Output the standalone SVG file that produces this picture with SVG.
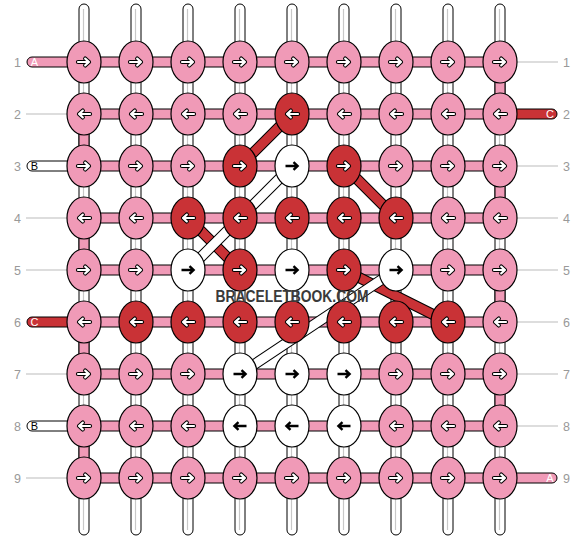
<svg xmlns="http://www.w3.org/2000/svg" xmlns:xlink="http://www.w3.org/1999/xlink" width="584" height="540" viewBox="0 0 584 540">
<style>
.vs{fill:#fff;stroke:#000;stroke-width:1}
.vc{stroke:#c8c8c8;stroke-width:1.2}
.hp{fill:#f09ab7;stroke:#000;stroke-width:1}
.hr{fill:#c93236;stroke:#000;stroke-width:1}
.hw{fill:#fff;stroke:#000;stroke-width:1}
.p{fill:#f09ab7;stroke:#000;stroke-width:1.2}
.r{fill:#c93236;stroke:#000;stroke-width:1.2}
.w{fill:#fff;stroke:#000;stroke-width:1.2}
.bo{fill:none;stroke:#000;stroke-width:11}
.bR{fill:none;stroke:#c93236;stroke-width:9}
.bW{fill:none;stroke:#fff;stroke-width:9}
.gl{stroke:#bbb;stroke-width:1}
.num{font-family:"Liberation Sans",Arial,sans-serif;font-size:12.5px;fill:#999;text-anchor:middle}
.pl{font-family:"Liberation Sans",Arial,sans-serif;font-size:11px;text-anchor:middle}
.ao{fill:none;stroke:#000;stroke-width:4.2;stroke-linecap:round;stroke-linejoin:round}
.ai{fill:none;stroke:#fff;stroke-width:2.2;stroke-linecap:round;stroke-linejoin:round}
.ab{fill:none;stroke:#000;stroke-width:2.4}
</style>
<defs>
<g id="wr"><path class="ao" d="M-6 0H5M1.2-3.4L5 0L1.2 3.4"/><path class="ai" d="M-6 0H5M1.2-3.4L5 0L1.2 3.4"/></g>
<g id="wl"><use href="#wr" transform="scale(-1,1)"/></g>
<path id="br" class="ab" d="M-6.5 0H5.5M1.5-3.9L5.6 0L1.5 3.9"/>
<g id="bl"><use href="#br" transform="scale(-1,1)"/></g>
</defs>
<rect width="584" height="540" fill="#fff"/>
<g id="labels">
<text class="num" x="17.5" y="66.5">1</text><text class="num" x="17.5" y="118.5">2</text><text class="num" x="17.5" y="170.5">3</text><text class="num" x="17.5" y="222.5">4</text><text class="num" x="17.5" y="274.5">5</text><text class="num" x="17.5" y="326.5">6</text><text class="num" x="17.5" y="378.5">7</text><text class="num" x="17.5" y="430.5">8</text><text class="num" x="17.5" y="482.5">9</text>
<text class="num" x="566.5" y="66.5">1</text><text class="num" x="566.5" y="118.5">2</text><text class="num" x="566.5" y="170.5">3</text><text class="num" x="566.5" y="222.5">4</text><text class="num" x="566.5" y="274.5">5</text><text class="num" x="566.5" y="326.5">6</text><text class="num" x="566.5" y="378.5">7</text><text class="num" x="566.5" y="430.5">8</text><text class="num" x="566.5" y="482.5">9</text>
<path class="gl" d="M26 114H70M26 218H70M26 270H70M26 374H70M26 478H70"/>
<path class="gl" d="M514 62H558M514 166H558M514 218H558M514 270H558M514 322H558M514 374H558M514 426H558"/>
</g>
<g id="connectors">
<g id="warp">
<rect class="vs" x="79" y="4" width="10" height="531" rx="5"/><rect class="vs" x="131" y="4" width="10" height="531" rx="5"/><rect class="vs" x="183" y="4" width="10" height="531" rx="5"/><rect class="vs" x="235" y="4" width="10" height="531" rx="5"/><rect class="vs" x="287" y="4" width="10" height="531" rx="5"/><rect class="vs" x="339" y="4" width="10" height="531" rx="5"/><rect class="vs" x="391" y="4" width="10" height="531" rx="5"/><rect class="vs" x="443" y="4" width="10" height="531" rx="5"/><rect class="vs" x="495" y="4" width="10" height="531" rx="5"/>
<path class="vc" d="M83.5 9V530M135.5 9V530M187.5 9V530M239.5 9V530M291.5 9V530M343.5 9V530M395.5 9V530M447.5 9V530M499.5 9V530"/>
<rect class="hp" x="79" y="128" width="10" height="24"/><rect class="hp" x="79" y="232" width="10" height="24"/><rect class="hp" x="79" y="336" width="10" height="24"/><rect class="hp" x="79" y="440" width="10" height="24"/>
<rect class="hp" x="495" y="76" width="10" height="24"/><rect class="hp" x="495" y="180" width="10" height="24"/><rect class="hp" x="495" y="284" width="10" height="24"/><rect class="hp" x="495" y="388" width="10" height="24"/>
</g>
<g id="weft">
<rect class="hp" x="84" y="57" width="416" height="10"/><rect class="hp" x="84" y="109" width="416" height="10"/><rect class="hp" x="84" y="161" width="416" height="10"/><rect class="hp" x="84" y="213" width="416" height="10"/><rect class="hp" x="84" y="265" width="416" height="10"/><rect class="hp" x="84" y="317" width="416" height="10"/><rect class="hp" x="84" y="369" width="416" height="10"/><rect class="hp" x="84" y="421" width="416" height="10"/><rect class="hp" x="84" y="473" width="416" height="10"/>
<path class="hp" d="M72 57H32A5 5 0 0 0 32 67H72Z"/>
<path class="hw" d="M72 161H32A5 5 0 0 0 32 171H72Z"/>
<path class="hr" d="M72 317H32A5 5 0 0 0 32 327H72Z"/>
<path class="hw" d="M72 421H32A5 5 0 0 0 32 431H72Z"/>
<path class="hr" d="M512 109H552A5 5 0 0 1 552 119H512Z"/>
<path class="hp" d="M512 473H552A5 5 0 0 1 552 483H512Z"/>
<text class="pl" x="34.5" y="66" fill="#fff">A</text>
<text class="pl" x="34.5" y="170" fill="#000">B</text>
<text class="pl" x="34.5" y="326" fill="#fff">C</text>
<text class="pl" x="34.5" y="430" fill="#000">B</text>
<text class="pl" x="550" y="118" fill="#fff">C</text>
<text class="pl" x="550" y="482" fill="#fff">A</text>
</g>
<g id="diagonals">
<path class="bo" d="M292 114L240 166M344 166L396 218M188 218L240 270M344 270L448 322"/>
<path class="bR" d="M292 114L240 166M344 166L396 218M188 218L240 270M344 270L448 322"/>
<path class="bo" d="M292 166L188 270M396 270L240 374"/>
<path class="bW" d="M292 166L188 270M396 270L240 374"/>
</g>
</g>
<g id="knots">
<g id="k1-1"><ellipse class="p" cx="84" cy="62" rx="17" ry="21"/><use href="#wr" x="84" y="62"/></g>
<g id="k1-2"><ellipse class="p" cx="136" cy="62" rx="17" ry="21"/><use href="#wr" x="136" y="62"/></g>
<g id="k1-3"><ellipse class="p" cx="188" cy="62" rx="17" ry="21"/><use href="#wr" x="188" y="62"/></g>
<g id="k1-4"><ellipse class="p" cx="240" cy="62" rx="17" ry="21"/><use href="#wr" x="240" y="62"/></g>
<g id="k1-5"><ellipse class="p" cx="292" cy="62" rx="17" ry="21"/><use href="#wr" x="292" y="62"/></g>
<g id="k1-6"><ellipse class="p" cx="344" cy="62" rx="17" ry="21"/><use href="#wr" x="344" y="62"/></g>
<g id="k1-7"><ellipse class="p" cx="396" cy="62" rx="17" ry="21"/><use href="#wr" x="396" y="62"/></g>
<g id="k1-8"><ellipse class="p" cx="448" cy="62" rx="17" ry="21"/><use href="#wr" x="448" y="62"/></g>
<g id="k1-9"><ellipse class="p" cx="500" cy="62" rx="17" ry="21"/><use href="#wr" x="500" y="62"/></g>
<g id="k2-1"><ellipse class="p" cx="84" cy="114" rx="17" ry="21"/><use href="#wl" x="84" y="114"/></g>
<g id="k2-2"><ellipse class="p" cx="136" cy="114" rx="17" ry="21"/><use href="#wl" x="136" y="114"/></g>
<g id="k2-3"><ellipse class="p" cx="188" cy="114" rx="17" ry="21"/><use href="#wl" x="188" y="114"/></g>
<g id="k2-4"><ellipse class="p" cx="240" cy="114" rx="17" ry="21"/><use href="#wl" x="240" y="114"/></g>
<g id="k2-5"><ellipse class="r" cx="292" cy="114" rx="17" ry="21"/><use href="#wl" x="292" y="114"/></g>
<g id="k2-6"><ellipse class="p" cx="344" cy="114" rx="17" ry="21"/><use href="#wl" x="344" y="114"/></g>
<g id="k2-7"><ellipse class="p" cx="396" cy="114" rx="17" ry="21"/><use href="#wl" x="396" y="114"/></g>
<g id="k2-8"><ellipse class="p" cx="448" cy="114" rx="17" ry="21"/><use href="#wl" x="448" y="114"/></g>
<g id="k2-9"><ellipse class="p" cx="500" cy="114" rx="17" ry="21"/><use href="#wl" x="500" y="114"/></g>
<g id="k3-1"><ellipse class="p" cx="84" cy="166" rx="17" ry="21"/><use href="#wr" x="84" y="166"/></g>
<g id="k3-2"><ellipse class="p" cx="136" cy="166" rx="17" ry="21"/><use href="#wr" x="136" y="166"/></g>
<g id="k3-3"><ellipse class="p" cx="188" cy="166" rx="17" ry="21"/><use href="#wr" x="188" y="166"/></g>
<g id="k3-4"><ellipse class="r" cx="240" cy="166" rx="17" ry="21"/><use href="#wr" x="240" y="166"/></g>
<g id="k3-5"><ellipse class="w" cx="292" cy="166" rx="17" ry="21"/><use href="#br" x="292" y="166"/></g>
<g id="k3-6"><ellipse class="r" cx="344" cy="166" rx="17" ry="21"/><use href="#wr" x="344" y="166"/></g>
<g id="k3-7"><ellipse class="p" cx="396" cy="166" rx="17" ry="21"/><use href="#wr" x="396" y="166"/></g>
<g id="k3-8"><ellipse class="p" cx="448" cy="166" rx="17" ry="21"/><use href="#wr" x="448" y="166"/></g>
<g id="k3-9"><ellipse class="p" cx="500" cy="166" rx="17" ry="21"/><use href="#wr" x="500" y="166"/></g>
<g id="k4-1"><ellipse class="p" cx="84" cy="218" rx="17" ry="21"/><use href="#wl" x="84" y="218"/></g>
<g id="k4-2"><ellipse class="p" cx="136" cy="218" rx="17" ry="21"/><use href="#wl" x="136" y="218"/></g>
<g id="k4-3"><ellipse class="r" cx="188" cy="218" rx="17" ry="21"/><use href="#wl" x="188" y="218"/></g>
<g id="k4-4"><ellipse class="r" cx="240" cy="218" rx="17" ry="21"/><use href="#wl" x="240" y="218"/></g>
<g id="k4-5"><ellipse class="r" cx="292" cy="218" rx="17" ry="21"/><use href="#wl" x="292" y="218"/></g>
<g id="k4-6"><ellipse class="r" cx="344" cy="218" rx="17" ry="21"/><use href="#wl" x="344" y="218"/></g>
<g id="k4-7"><ellipse class="r" cx="396" cy="218" rx="17" ry="21"/><use href="#wl" x="396" y="218"/></g>
<g id="k4-8"><ellipse class="p" cx="448" cy="218" rx="17" ry="21"/><use href="#wl" x="448" y="218"/></g>
<g id="k4-9"><ellipse class="p" cx="500" cy="218" rx="17" ry="21"/><use href="#wl" x="500" y="218"/></g>
<g id="k5-1"><ellipse class="p" cx="84" cy="270" rx="17" ry="21"/><use href="#wr" x="84" y="270"/></g>
<g id="k5-2"><ellipse class="p" cx="136" cy="270" rx="17" ry="21"/><use href="#wr" x="136" y="270"/></g>
<g id="k5-3"><ellipse class="w" cx="188" cy="270" rx="17" ry="21"/><use href="#br" x="188" y="270"/></g>
<g id="k5-4"><ellipse class="r" cx="240" cy="270" rx="17" ry="21"/><use href="#wr" x="240" y="270"/></g>
<g id="k5-5"><ellipse class="w" cx="292" cy="270" rx="17" ry="21"/><use href="#br" x="292" y="270"/></g>
<g id="k5-6"><ellipse class="r" cx="344" cy="270" rx="17" ry="21"/><use href="#wr" x="344" y="270"/></g>
<g id="k5-7"><ellipse class="w" cx="396" cy="270" rx="17" ry="21"/><use href="#br" x="396" y="270"/></g>
<g id="k5-8"><ellipse class="p" cx="448" cy="270" rx="17" ry="21"/><use href="#wr" x="448" y="270"/></g>
<g id="k5-9"><ellipse class="p" cx="500" cy="270" rx="17" ry="21"/><use href="#wr" x="500" y="270"/></g>
<g id="k6-1"><ellipse class="p" cx="84" cy="322" rx="17" ry="21"/><use href="#wl" x="84" y="322"/></g>
<g id="k6-2"><ellipse class="r" cx="136" cy="322" rx="17" ry="21"/><use href="#wl" x="136" y="322"/></g>
<g id="k6-3"><ellipse class="r" cx="188" cy="322" rx="17" ry="21"/><use href="#wl" x="188" y="322"/></g>
<g id="k6-4"><ellipse class="r" cx="240" cy="322" rx="17" ry="21"/><use href="#wl" x="240" y="322"/></g>
<g id="k6-5"><ellipse class="r" cx="292" cy="322" rx="17" ry="21"/><use href="#wl" x="292" y="322"/></g>
<g id="k6-6"><ellipse class="r" cx="344" cy="322" rx="17" ry="21"/><use href="#wl" x="344" y="322"/></g>
<g id="k6-7"><ellipse class="r" cx="396" cy="322" rx="17" ry="21"/><use href="#wl" x="396" y="322"/></g>
<g id="k6-8"><ellipse class="r" cx="448" cy="322" rx="17" ry="21"/><use href="#wl" x="448" y="322"/></g>
<g id="k6-9"><ellipse class="p" cx="500" cy="322" rx="17" ry="21"/><use href="#wl" x="500" y="322"/></g>
<g id="k7-1"><ellipse class="p" cx="84" cy="374" rx="17" ry="21"/><use href="#wr" x="84" y="374"/></g>
<g id="k7-2"><ellipse class="p" cx="136" cy="374" rx="17" ry="21"/><use href="#wr" x="136" y="374"/></g>
<g id="k7-3"><ellipse class="p" cx="188" cy="374" rx="17" ry="21"/><use href="#wr" x="188" y="374"/></g>
<g id="k7-4"><ellipse class="w" cx="240" cy="374" rx="17" ry="21"/><use href="#br" x="240" y="374"/></g>
<g id="k7-5"><ellipse class="w" cx="292" cy="374" rx="17" ry="21"/><use href="#br" x="292" y="374"/></g>
<g id="k7-6"><ellipse class="w" cx="344" cy="374" rx="17" ry="21"/><use href="#br" x="344" y="374"/></g>
<g id="k7-7"><ellipse class="p" cx="396" cy="374" rx="17" ry="21"/><use href="#wr" x="396" y="374"/></g>
<g id="k7-8"><ellipse class="p" cx="448" cy="374" rx="17" ry="21"/><use href="#wr" x="448" y="374"/></g>
<g id="k7-9"><ellipse class="p" cx="500" cy="374" rx="17" ry="21"/><use href="#wr" x="500" y="374"/></g>
<g id="k8-1"><ellipse class="p" cx="84" cy="426" rx="17" ry="21"/><use href="#wl" x="84" y="426"/></g>
<g id="k8-2"><ellipse class="p" cx="136" cy="426" rx="17" ry="21"/><use href="#wl" x="136" y="426"/></g>
<g id="k8-3"><ellipse class="p" cx="188" cy="426" rx="17" ry="21"/><use href="#wl" x="188" y="426"/></g>
<g id="k8-4"><ellipse class="w" cx="240" cy="426" rx="17" ry="21"/><use href="#bl" x="240" y="426"/></g>
<g id="k8-5"><ellipse class="w" cx="292" cy="426" rx="17" ry="21"/><use href="#bl" x="292" y="426"/></g>
<g id="k8-6"><ellipse class="w" cx="344" cy="426" rx="17" ry="21"/><use href="#bl" x="344" y="426"/></g>
<g id="k8-7"><ellipse class="p" cx="396" cy="426" rx="17" ry="21"/><use href="#wl" x="396" y="426"/></g>
<g id="k8-8"><ellipse class="p" cx="448" cy="426" rx="17" ry="21"/><use href="#wl" x="448" y="426"/></g>
<g id="k8-9"><ellipse class="p" cx="500" cy="426" rx="17" ry="21"/><use href="#wl" x="500" y="426"/></g>
<g id="k9-1"><ellipse class="p" cx="84" cy="478" rx="17" ry="21"/><use href="#wr" x="84" y="478"/></g>
<g id="k9-2"><ellipse class="p" cx="136" cy="478" rx="17" ry="21"/><use href="#wr" x="136" y="478"/></g>
<g id="k9-3"><ellipse class="p" cx="188" cy="478" rx="17" ry="21"/><use href="#wr" x="188" y="478"/></g>
<g id="k9-4"><ellipse class="p" cx="240" cy="478" rx="17" ry="21"/><use href="#wr" x="240" y="478"/></g>
<g id="k9-5"><ellipse class="p" cx="292" cy="478" rx="17" ry="21"/><use href="#wr" x="292" y="478"/></g>
<g id="k9-6"><ellipse class="p" cx="344" cy="478" rx="17" ry="21"/><use href="#wr" x="344" y="478"/></g>
<g id="k9-7"><ellipse class="p" cx="396" cy="478" rx="17" ry="21"/><use href="#wr" x="396" y="478"/></g>
<g id="k9-8"><ellipse class="p" cx="448" cy="478" rx="17" ry="21"/><use href="#wr" x="448" y="478"/></g>
<g id="k9-9"><ellipse class="p" cx="500" cy="478" rx="17" ry="21"/><use href="#wr" x="500" y="478"/></g>
</g>
<text x="292" y="302" text-anchor="middle" font-family="Liberation Sans, Arial, sans-serif" font-weight="bold" font-size="16" fill="#3a3a3a" textLength="153" lengthAdjust="spacingAndGlyphs">BRACELETBOOK.COM</text>
</svg>
